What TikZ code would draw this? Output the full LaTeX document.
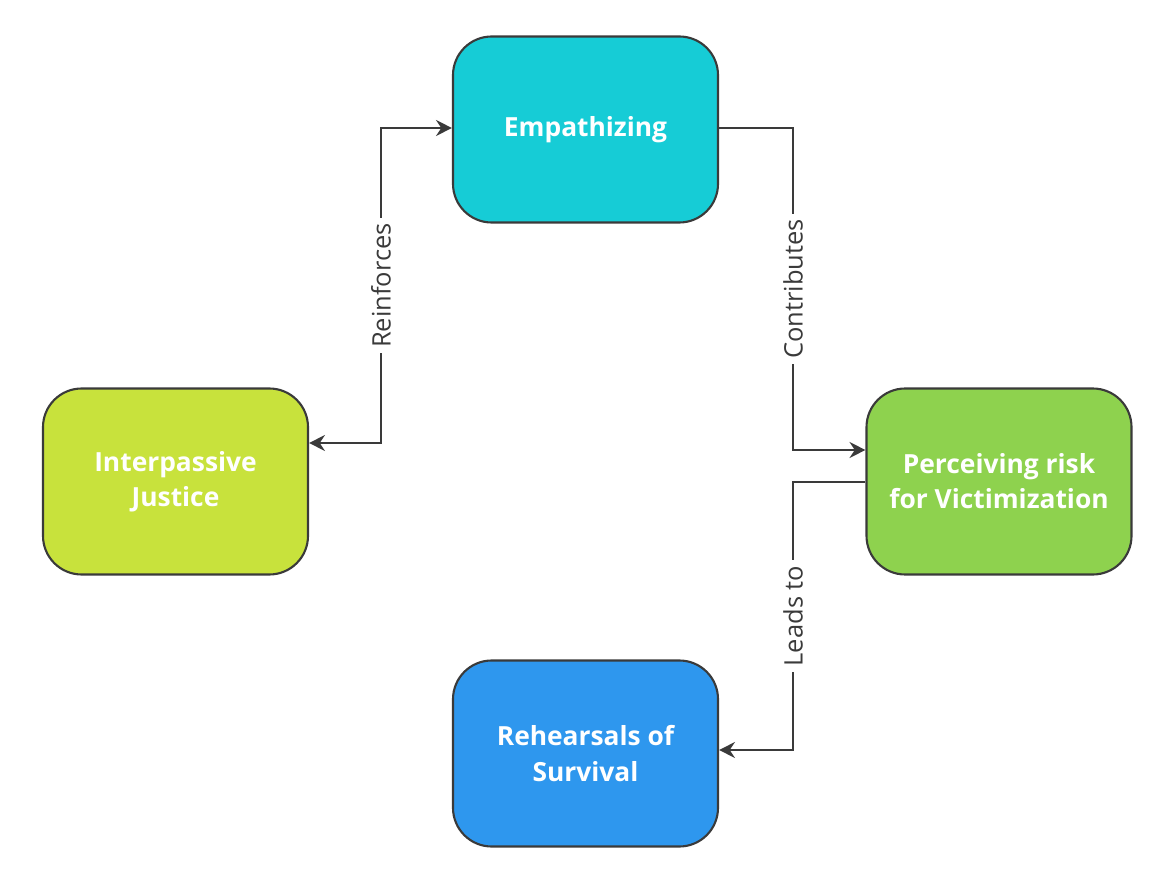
\documentclass[tikz,border=0pt]{standalone}
\usepackage{fontspec}
\setmainfont{Open Sans}
\usetikzlibrary{arrows.meta}
\definecolor{empcol}{HTML}{16CCD6}
\definecolor{intcol}{HTML}{C8E23C}
\definecolor{percol}{HTML}{8ED24E}
\definecolor{rehcol}{HTML}{2E97EE}
\definecolor{linecol}{HTML}{3A3A3A}
\tikzset{
  box/.style={draw=linecol, line width=1.2pt, rounded corners=22pt,
    minimum width=5.3cm, minimum height=3.72cm, align=center,
    text=white, font=\fontsize{15}{20}\selectfont\bfseries},
  link/.style={draw=linecol, line width=1.4pt, -{Stealth[length=9pt,width=9pt]}},
  lbl/.style={fill=white, rotate=90, inner sep=3pt, text=linecol,
    font=\fontsize{14.5}{17}\selectfont}
}
\begin{document}
\begin{tikzpicture}
  \useasboundingbox (0,0) rectangle (23.42,-17.68);

  % Boxes
  \node[box, fill=empcol] (emp) at (11.71,-2.59) {Empathizing};
  \node[box, fill=intcol] (int) at (3.51,-9.63) {Interpassive\\Justice};
  \node[box, fill=percol] (per) at (19.98,-9.63) {Perceiving risk\\for Victimization};
  \node[box, fill=rehcol] (reh) at (11.71,-15.07) {Rehearsals of\\Survival};

  % Turning points
  \coordinate (a1) at (7.62,-2.56);
  \coordinate (a2) at (7.62,-8.86);
  \coordinate (b1) at (15.86,-2.56);
  \coordinate (b2) at (15.86,-9.0);
  \coordinate (c1) at (15.86,-9.64);
  \coordinate (c2) at (15.86,-15.0);

  % Connectors
  \draw[link, {Stealth[length=9pt,width=9pt]}-{Stealth[length=9pt,width=9pt]}]
    (int.east |- a2) -- (a2) -- node[lbl, pos=0.5] {Reinforces} (a1) -- (emp.west |- a1);
  \draw[link] (emp.east |- b1) -- (b1) -- node[lbl, pos=0.5] {Contributes} (b2) -- (per.west |- b2);
  \draw[link] (per.west |- c1) -- (c1) -- node[lbl, pos=0.5] {Leads to} (c2) -- (reh.east |- c2);
\end{tikzpicture}
\end{document}
